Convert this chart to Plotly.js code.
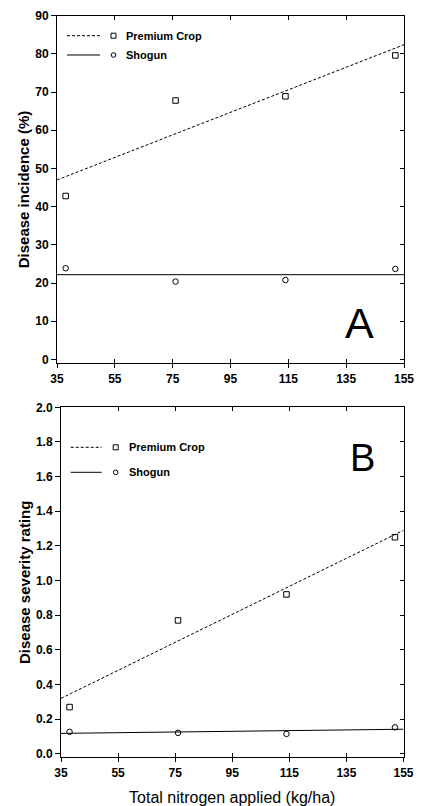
<!DOCTYPE html>
<html>
<head>
<meta charset="utf-8">
<script src="https://cdn.plot.ly/plotly-3.0.1.min.js"></script>
<style>html,body{margin:0;padding:0;background:#fff;}#chart{width:422px;height:806px;}</style>
</head>
<body>
<div id="chart"></div>
<script>
// ---- data ----
const nitrogen = [38, 76, 114, 152];
const incidencePremium = [42.8, 67.8, 68.9, 79.6];
const incidenceShogun = [23.9, 20.4, 20.8, 23.7];
const severityPremium = [0.27, 0.77, 0.92, 1.25];
const severityShogun = [0.127, 0.121, 0.115, 0.153];
const fitX = [35, 155];
const incidencePremiumFit = [47.0, 82.4];
const incidenceShogunFit = [22.2, 22.2];
const severityPremiumFit = [0.32, 1.29];
const severityShogunFit = [0.118, 0.142];
const xTicks = [35, 55, 75, 95, 115, 135, 155];
const incidenceTicks = [0, 10, 20, 30, 40, 50, 60, 70, 80, 90];
const severityTicks = [0, 0.2, 0.4, 0.6, 0.8, 1.0, 1.2, 1.4, 1.6, 1.8, 2.0];
const seriesNames = ['Premium Crop', 'Shogun'];

const W = 422, H = 806;
const px = v => v / W;
const py = v => 1 - v / H;
const FONT = 'Liberation Sans, Arial, Helvetica, sans-serif';
const tickFont = {family: FONT, size: 12, color: '#000', weight: 'bold'};

const marker = sym => ({symbol: sym, size: 5.5, color: '#000', line: {color: '#000', width: 1}});
const data = [
  {x: fitX, y: incidencePremiumFit, mode: 'lines', line: {color: '#000', width: 1, dash: '3px,2px'}, xaxis: 'x', yaxis: 'y', hoverinfo: 'skip'},
  {x: fitX, y: incidenceShogunFit, mode: 'lines', line: {color: '#000', width: 1}, xaxis: 'x', yaxis: 'y', hoverinfo: 'skip'},
  {x: nitrogen, y: incidencePremium, mode: 'markers', name: seriesNames[0], marker: marker('square-open'), xaxis: 'x', yaxis: 'y'},
  {x: nitrogen, y: incidenceShogun, mode: 'markers', name: seriesNames[1], marker: marker('circle-open'), xaxis: 'x', yaxis: 'y'},
  {x: fitX, y: severityPremiumFit, mode: 'lines', line: {color: '#000', width: 1, dash: '3px,2px'}, xaxis: 'x2', yaxis: 'y2', hoverinfo: 'skip'},
  {x: fitX, y: severityShogunFit, mode: 'lines', line: {color: '#000', width: 1}, xaxis: 'x2', yaxis: 'y2', hoverinfo: 'skip'},
  {x: nitrogen, y: severityPremium, mode: 'markers', name: seriesNames[0], marker: marker('square-open'), xaxis: 'x2', yaxis: 'y2'},
  {x: nitrogen, y: severityShogun, mode: 'markers', name: seriesNames[1], marker: marker('circle-open'), xaxis: 'x2', yaxis: 'y2'},
  // empty helper traces so the overlay (inner-tick) axes are drawn
  {x: [null], y: [null], mode: 'markers', xaxis: 'x3', yaxis: 'y3', hoverinfo: 'skip'},
  {x: [null], y: [null], mode: 'markers', xaxis: 'x4', yaxis: 'y4', hoverinfo: 'skip'}
];

const baseAxis = {showgrid: false, zeroline: false, showline: true, linecolor: '#000', linewidth: 1, tickcolor: '#000', tickwidth: 1, tickfont: tickFont, fixedrange: true};
const xA = [px(57), px(404)], yA = [py(363.3), py(15.7)];
const xB = [px(61), px(403.5)], yB = [py(757.3), py(407.3)];

const layout = {
  width: W, height: H, showlegend: false,
  margin: {l: 0, r: 0, t: 0, b: 0},
  paper_bgcolor: '#fff', plot_bgcolor: 'rgba(0,0,0,0)',
  font: {family: FONT, color: '#000'},
  xaxis: Object.assign({}, baseAxis, {domain: xA, anchor: 'y', range: [35, 155], tickvals: xTicks, ticks: 'outside', ticklen: 4, mirror: true}),
  yaxis: Object.assign({}, baseAxis, {domain: yA, anchor: 'x', range: [-1, 90], tickvals: incidenceTicks, ticks: 'outside', ticklen: 5, mirror: true,
    title: {text: 'Disease incidence (%)', font: {family: FONT, size: 15, weight: 'bold', color: '#000'}, standoff: 1}}),
  xaxis3: Object.assign({}, baseAxis, {overlaying: 'x', anchor: 'y3', range: [35, 155], tickvals: xTicks, ticks: 'inside', ticklen: 4, mirror: 'ticks', showticklabels: false}),
  yaxis3: Object.assign({}, baseAxis, {overlaying: 'y', anchor: 'x3', side: 'right', range: [-1, 90], tickvals: incidenceTicks, ticks: 'inside', ticklen: 4, showticklabels: false}),
  xaxis2: Object.assign({}, baseAxis, {domain: xB, anchor: 'y2', range: [35, 155], tickvals: xTicks, ticks: 'outside', ticklen: 4, mirror: true,
    title: {text: 'Total nitrogen applied (kg/ha)', font: {family: FONT, size: 16, color: '#000'}, standoff: 13}}),
  yaxis2: Object.assign({}, baseAxis, {domain: yB, anchor: 'x2', range: [-0.02, 2.0], tickvals: severityTicks, tickformat: '.1f', ticks: 'outside', ticklen: 5, mirror: true,
    title: {text: 'Disease severity rating', font: {family: FONT, size: 15, weight: 'bold', color: '#000'}, standoff: 1}}),
  xaxis4: Object.assign({}, baseAxis, {overlaying: 'x2', anchor: 'y4', range: [35, 155], tickvals: xTicks, ticks: 'inside', ticklen: 4, mirror: 'ticks', showticklabels: false}),
  yaxis4: Object.assign({}, baseAxis, {overlaying: 'y2', anchor: 'x4', side: 'right', range: [-0.02, 2.0], tickvals: severityTicks, ticks: 'inside', ticklen: 4, showticklabels: false}),
  shapes: [],
  annotations: []
};

// manual legends (line sample, gap, marker, label) as in the reference
function addLegend(x0, x1, mx, tx, yP, yS) {
  const rows = [[yP, '3px,2px', 'rect', seriesNames[0]], [yS, 'solid', 'circle', seriesNames[1]]];
  rows.forEach(r => {
    const y = r[0];
    layout.shapes.push({type: 'line', xref: 'paper', yref: 'paper', x0: px(x0), x1: px(x1), y0: py(y), y1: py(y), line: {color: '#000', width: 1, dash: r[1]}});
    const h = r[2] === 'rect' ? 2.5 : 2.3;
    layout.shapes.push({type: r[2], xref: 'paper', yref: 'paper', x0: px(mx - h), x1: px(mx + h), y0: py(y + h), y1: py(y - h), line: {color: '#000', width: 1}, fillcolor: 'rgba(0,0,0,0)'});
    layout.annotations.push({xref: 'paper', yref: 'paper', x: px(tx), y: py(y), xanchor: 'left', yanchor: 'middle', showarrow: false, text: r[3], font: {family: FONT, size: 11, weight: 'bold', color: '#000'}});
  });
}
addLegend(67, 100, 113.5, 124, 35.7, 55);
addLegend(70.7, 101.7, 115.7, 127, 447.3, 472.3);

layout.annotations.push({xref: 'paper', yref: 'paper', x: px(359), y: py(323), xanchor: 'center', yanchor: 'middle', showarrow: false, text: 'A', font: {family: FONT, size: 43, color: '#000'}});
layout.annotations.push({xref: 'paper', yref: 'paper', x: px(362.5), y: py(458), xanchor: 'center', yanchor: 'middle', showarrow: false, text: 'B', font: {family: FONT, size: 38, color: '#000'}});

Plotly.newPlot('chart', data, layout, {staticPlot: true, displayModeBar: false});
</script>
</body>
</html>
